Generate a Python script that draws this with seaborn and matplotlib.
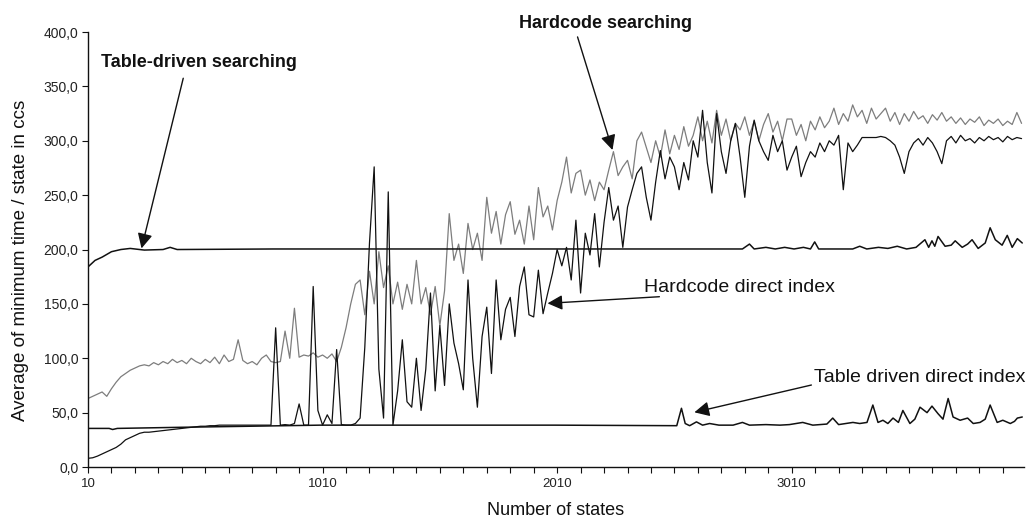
import numpy as np
import pandas as pd
import matplotlib
matplotlib.use("Agg")
import matplotlib.pyplot as plt
import seaborn as sns
from matplotlib.ticker import FuncFormatter

# Number of states sampled every 20 states for the two hardcoded variants
states = np.arange(10, 4000, 20)

# Hardcode searching (grey), split in blocks of 1000 states
hardcode_search_a = [63, 65, 67, 69, 65, 72, 78, 83, 86, 89,
                     91, 93, 94, 93, 96, 94, 97, 95, 99, 96,
                     98, 95, 100, 97, 95, 99, 96, 101, 95, 103,
                     97, 99, 117, 98, 95, 97, 94, 100, 103, 97,
                     96, 97, 125, 100, 146, 101, 103, 102, 105, 101]
hardcode_search_b = [103, 100, 104, 97, 110, 128, 150, 168, 172, 140,
                     180, 150, 198, 165, 185, 150, 170, 145, 168, 150,
                     190, 150, 165, 140, 166, 130, 162, 233, 190, 205,
                     178, 224, 200, 215, 190, 248, 215, 235, 205, 232,
                     244, 214, 227, 205, 240, 209, 257, 230, 240, 218]
hardcode_search_c = [245, 262, 285, 252, 270, 273, 250, 264, 245, 262,
                     255, 273, 290, 268, 276, 282, 265, 300, 308, 294,
                     280, 300, 285, 310, 288, 305, 292, 313, 295, 305,
                     322, 300, 318, 298, 328, 305, 320, 300, 316, 310,
                     322, 305, 318, 300, 315, 325, 308, 318, 300, 320]
hardcode_search_d = [320, 305, 315, 300, 318, 310, 322, 312, 318, 330,
                     315, 325, 318, 333, 322, 328, 316, 330, 320, 325,
                     330, 318, 326, 315, 325, 318, 327, 320, 323, 316,
                     324, 319, 326, 318, 322, 316, 321, 315, 320, 317,
                     322, 314, 319, 316, 320, 314, 318, 315, 326, 316]

# Hardcode direct index (black)
hardcode_direct_a = [8, 8.5, 10, 12, 14, 16, 18, 21, 25, 27,
                     29, 31, 32, 32, 32.5, 33, 33.5, 34, 34.5, 35,
                     35.5, 36, 36.5, 37, 37.5, 37.5, 38, 38, 38.5, 38.5,
                     38.5, 38.5, 38.5, 38.5, 38.5, 38.5, 38.5, 38.5, 38.5, 38.5,
                     128, 38.5, 39, 38.5, 40, 58, 38.5, 38.5, 166, 52]
hardcode_direct_b = [38.5, 48, 40, 108, 39, 38.5, 38.5, 40, 45, 110,
                     206, 276, 90, 45, 253, 38.5, 70, 117, 60, 55,
                     100, 52, 90, 160, 70, 130, 75, 150, 114, 95,
                     71, 172, 100, 55, 120, 147, 86, 172, 117, 145,
                     156, 120, 166, 184, 140, 138, 181, 141, 160, 178]
hardcode_direct_c = [200, 185, 202, 172, 227, 160, 215, 195, 233, 184,
                     225, 257, 227, 240, 202, 239, 255, 270, 276, 248,
                     227, 262, 291, 265, 285, 276, 255, 280, 264, 300,
                     285, 328, 280, 252, 325, 290, 270, 300, 316, 285,
                     248, 295, 319, 300, 290, 282, 305, 290, 300, 273]
hardcode_direct_d = [285, 295, 267, 280, 290, 285, 298, 290, 300, 296,
                     305, 255, 298, 290, 296, 303, 303, 303, 303, 304,
                     303, 300, 296, 285, 270, 290, 298, 302, 296, 303,
                     298, 290, 279, 300, 304, 298, 305, 300, 302, 298,
                     303, 300, 304, 301, 303, 299, 304, 301, 303, 302]

# Table-driven searching (black, near 200)
table_search_states = [10, 40, 70, 110, 150, 190, 250, 330, 360, 390,
                       800, 1500, 2200, 2800, 2830, 2850, 2900, 2940, 2980, 3020,
                       3060, 3090, 3108, 3125, 3270, 3300, 3330, 3380, 3420, 3460,
                       3500, 3540, 3578, 3594, 3608, 3620, 3634, 3664, 3690, 3707,
                       3737, 3760, 3779, 3805, 3835, 3856, 3878, 3907, 3929, 3950,
                       3972, 3993]
table_search_values = [184, 190, 193, 198, 200, 201, 199.5, 200, 202, 200,
                       200.5, 200.5, 200.5, 200.5, 205, 200.5, 202, 200.5, 202, 200.5,
                       202, 200.5, 207, 200.5, 200.5, 203, 200.5, 202, 201, 203,
                       200.5, 202, 209, 202, 208, 203, 212, 203, 204, 208,
                       202, 205, 209, 201, 206, 220, 209, 204, 213, 202,
                       210, 206]

# Table driven direct index (black, near 38)
table_direct_states = [10, 100, 115, 135, 400, 700, 1000, 2000, 2520, 2540,
                       2556, 2575, 2604, 2630, 2660, 2700, 2760, 2800, 2830, 2900,
                       2960, 3000, 3057, 3100, 3160, 3185, 3210, 3271, 3300, 3331,
                       3356, 3378, 3399, 3420, 3442, 3465, 3484, 3514, 3535, 3557,
                       3587, 3608, 3634, 3655, 3677, 3698, 3728, 3760, 3784, 3813,
                       3835, 3856, 3886, 3910, 3942, 3960, 3972, 3993]
table_direct_values = [35.5, 35.5, 34.5, 35.5, 36.5, 37.5, 38.5, 38.5, 38, 54,
                       40, 38, 41.5, 38.5, 40, 38.5, 38.5, 41, 38.5, 39,
                       38.5, 39, 41, 38.5, 39.5, 45, 39, 41, 40, 41,
                       57, 41, 43, 40, 45, 41, 52, 40, 44, 55,
                       50, 56, 49, 44, 63, 46, 43, 45, 40, 41,
                       44, 57, 41, 43, 40, 42, 45, 46]

x_tick_labels = ["10", "1010", "2010", "3010"]

hardcode_search = hardcode_search_a + hardcode_search_b + hardcode_search_c + hardcode_search_d
hardcode_direct = hardcode_direct_a + hardcode_direct_b + hardcode_direct_c + hardcode_direct_d
if len(hardcode_search) != len(states) or len(hardcode_direct) != len(states):
    raise ValueError("series length mismatch")

hard_df = pd.DataFrame({"states": states,
                        "search": hardcode_search,
                        "direct": hardcode_direct})
tsearch_df = pd.DataFrame({"states": table_search_states, "value": table_search_values})
tdirect_df = pd.DataFrame({"states": table_direct_states, "value": table_direct_values})

sns.set_theme(style="ticks")
plt.rcParams["font.family"] = ["Liberation Sans", "DejaVu Sans"]

fig = plt.figure(figsize=(10.33, 5.2), dpi=100)
ax = fig.add_axes([0.0852, 0.1019, 0.906, 0.8365])

sns.lineplot(data=hard_df, x="states", y="search", ax=ax, color="#7d7d7d",
             linewidth=0.9, estimator=None)
sns.lineplot(data=tsearch_df, x="states", y="value", ax=ax, color="#111111",
             linewidth=1.1, estimator=None)
sns.lineplot(data=tdirect_df, x="states", y="value", ax=ax, color="#111111",
             linewidth=1.1, estimator=None)
sns.lineplot(data=hard_df, x="states", y="direct", ax=ax, color="#111111",
             linewidth=0.9, estimator=None)

ax.set_xlim(10, 4000)
ax.set_ylim(0, 400)
ax.set_xticks(np.arange(10, 4000, 100))
ax.xaxis.set_major_formatter(FuncFormatter(
    lambda v, p: x_tick_labels[int(round((v - 10) / 1000))] if abs((v - 10) % 1000) < 1e-6 else ""))
ax.set_yticks(np.arange(0, 401, 50))
ax.yaxis.set_major_formatter(FuncFormatter(lambda v, p: f"{v:.1f}".replace(".", ",")))
ax.tick_params(axis="both", direction="out", length=4, width=0.8, colors="#111111",
               labelcolor="#222222")
ax.tick_params(axis="y", pad=3, labelsize=10)
ax.tick_params(axis="x", pad=4, labelsize=9.5)

for side in ("top", "right"):
    ax.spines[side].set_visible(False)
for side in ("left", "bottom"):
    ax.spines[side].set_color("#111111")
    ax.spines[side].set_linewidth(1.0)
ax.grid(False)

ax.set_xlabel("Number of states", fontsize=13, color="#111111", va="center")
ax.set_ylabel("Average of minimum time / state in ccs", fontsize=13.5,
              color="#111111", va="center")
ax.xaxis.set_label_coords(0.5, -0.100)
ax.yaxis.set_label_coords(-0.0726, 0.476)

arrow_style = dict(arrowstyle="-|>,head_length=0.6,head_width=0.3",
                   color="#111111", lw=1.0, mutation_scale=15,
                   shrinkA=0, shrinkB=0)

ax.text(484, 372, "Table-driven searching", ha="center", va="center",
        fontsize=13, fontweight="bold", color="#111111")
ax.annotate("", xy=(238, 201), xytext=(416, 357.5), arrowprops=arrow_style,
            annotation_clip=False)

ax.text(2215, 408, "Hardcode searching", ha="center", va="center",
        fontsize=13, fontweight="bold", color="#111111", clip_on=False)
ax.annotate("", xy=(2246, 291.5), xytext=(2097, 395.5), arrowprops=arrow_style,
            annotation_clip=False)

ax.text(2788, 165.5, "Hardcode direct index", ha="center", va="center",
        fontsize=14, color="#111111")
ax.annotate("", xy=(1969, 150.5), xytext=(2446, 156.6), arrowprops=arrow_style,
            annotation_clip=False)

ax.text(3557, 82, "Table driven direct index", ha="center", va="center",
        fontsize=14, color="#111111")
ax.annotate("", xy=(2595, 50.3), xytext=(3094, 75.4), arrowprops=arrow_style,
            annotation_clip=False)

fig.savefig("out.png", dpi=100, facecolor="white")
